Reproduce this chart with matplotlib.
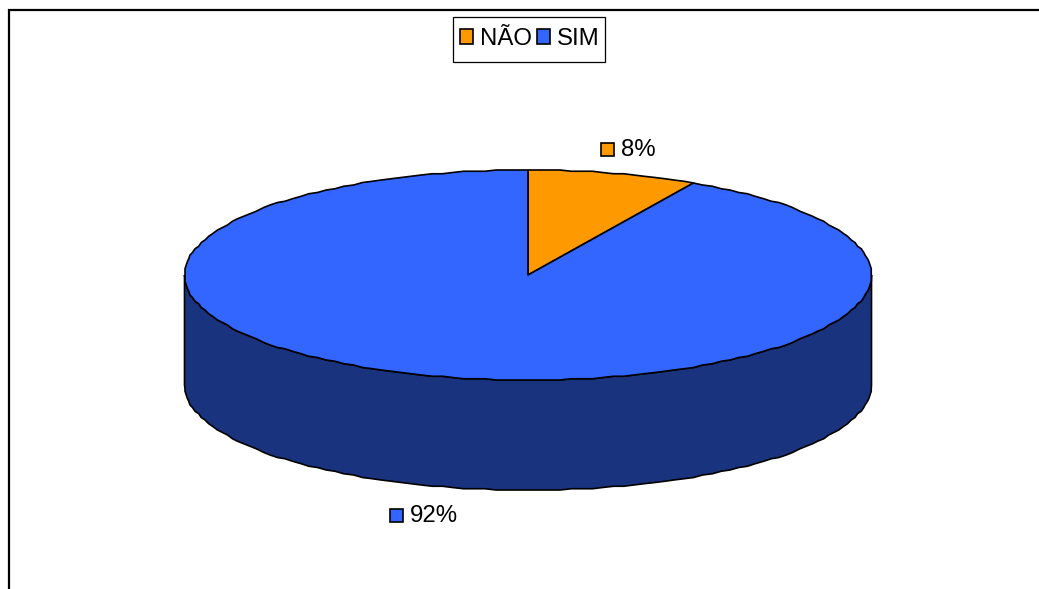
import numpy as np
import matplotlib
matplotlib.use("Agg")
import matplotlib.pyplot as plt
from matplotlib.patches import Polygon, Rectangle

categories = ["NÃO", "SIM"]
values = [8, 92]
value_labels = ["8%", "92%"]
top_colors = ["#FF9900", "#3366FF"]
side_color = "#19337F"

WIDTH, HEIGHT = 1039, 589
CX, CY = 528, 275      # pie centre
RX, RY = 343.5, 105    # ellipse radii of the top face
DEPTH = 110            # height of the disc wall
GRID = 1.25            # rim vertices snap to this pixel grid
FONT = "Liberation Sans"
FS = 17.3


def rim(start_deg, stop_deg):
    """Rim vertices between two angles, clockwise from 12 o'clock."""
    count = max(2, int(abs(stop_deg - start_deg) / 1.8) + 1)
    angles = np.radians(np.linspace(start_deg, stop_deg, count))
    x = CX + RX * np.sin(angles)
    y = CY - RY * np.cos(angles)
    inner_x, inner_y = x[1:-1], y[1:-1]
    x[1:-1] = np.round(inner_x / GRID) * GRID
    y[1:-1] = np.round(inner_y / GRID) * GRID
    return np.column_stack([x, y])


fig = plt.figure(figsize=(WIDTH / 100, HEIGHT / 100), dpi=100, facecolor="white")
ax = fig.add_axes([0, 0, 1, 1])
ax.set_xlim(0, WIDTH)
ax.set_ylim(HEIGHT, 0)
ax.axis("off")

# Chart frame: only the top and left edges fall inside the canvas
ax.plot([9, 9, WIDTH], [HEIGHT, 10, 10], color="black", lw=1.6,
        solid_joinstyle="miter", zorder=1)

# Front wall of the disc, hanging below the near half of the rim
front = rim(90, 270)
wall = np.vstack([front, front[::-1] + [0, DEPTH]])
ax.add_patch(Polygon(wall, closed=True, facecolor=side_color,
                     edgecolor="black", lw=1.2, zorder=2))

# Top face slices, running clockwise from 12 o'clock
start = 0.0
total = sum(values)
for value, color in zip(values, top_colors):
    sweep = 360.0 * value / total
    outline = np.vstack([[CX, CY], rim(start, start + sweep)])
    ax.add_patch(Polygon(outline, closed=True, facecolor=color,
                         edgecolor="black", lw=1.2, joinstyle="round",
                         zorder=3))
    start += sweep

# Data labels with their colour keys
label_spots = [(601, 149.5), (390, 515)]
for (lx, ly), text, color in zip(label_spots, value_labels, top_colors):
    ax.add_patch(Rectangle((lx, ly - 6.5), 12.5, 13, facecolor=color,
                           edgecolor="black", lw=1.2, zorder=4))
    ax.text(lx + 19.5, ly - 1.5, text, fontsize=FS, family=FONT, color="black",
            va="center_baseline", ha="left", zorder=4)

# Legend: outer box drawn separately so its padding can differ per side
ax.add_patch(Rectangle((452.5, 16.5), 152, 45.5, facecolor="white",
                       edgecolor="black", lw=0.9, zorder=4))
handles = [Rectangle((0, 0), 1, 1, facecolor=c, edgecolor="black", lw=1.2)
           for c in top_colors]
leg = ax.legend(handles, categories, ncols=2, loc="center",
                bbox_to_anchor=(529.5, 39), bbox_transform=ax.transData,
                prop={"family": FONT, "size": FS}, frameon=False,
                handlelength=0.54, handleheight=0.56, handletextpad=0.3,
                columnspacing=0.2, borderpad=0, borderaxespad=0)
leg.set_zorder(5)

fig.savefig("out.png", dpi=100)
